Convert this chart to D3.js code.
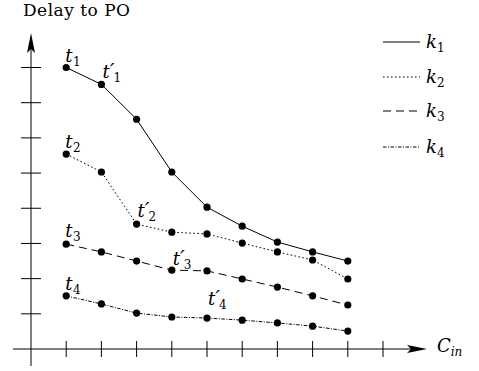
<!DOCTYPE html>
<html lang="en">
<head>
<meta charset="utf-8">
<script src="https://d3js.org/d3.v7.min.js"></script>
<style>
  body { margin: 0; background: #fff; }
</style>
</head>
<body>
<script>
    // values (one unit = one tick step)
    var xs = [1, 2, 3, 4, 5, 6, 7, 8, 9];
    var k1 = [8.0, 7.52, 6.53, 5.03, 4.03, 3.49, 3.04, 2.76, 2.50];
    var k2 = [5.54, 5.03, 3.55, 3.32, 3.27, 3.01, 2.76, 2.53, 1.99];
    var k3 = [2.98, 2.76, 2.50, 2.24, 2.22, 1.99, 1.76, 1.51, 1.25];
    var k4 = [1.51, 1.28, 1.02, 0.91, 0.88, 0.82, 0.74, 0.65, 0.51];
    var seriesNames = ["1", "2", "3", "4"];
    var xTicks = [1, 2, 3, 4, 5, 6, 7, 8, 9, 10];
    var yTicks = [1, 2, 3, 4, 5, 6, 7, 8];

    var width = 479, height = 371;
    var series = [k1, k2, k3, k4];
    var dashes = [null, "1.6,2.4", "8,5", "3.5,1.5,1,1.5"];
    var serif = "'DejaVu Serif', 'Liberation Serif', serif";

    var x = d3.scaleLinear().domain([0, 10]).range([31, 383]);
    var y = d3.scaleLinear().domain([0, 8]).range([349, 67.5]);

    var svg = d3.select("body").append("svg")
        .attr("width", width)
        .attr("height", height)
        .attr("font-family", serif);

    // axes
    svg.append("line").attr("x1", 13).attr("x2", 420).attr("y1", y(0)).attr("y2", y(0))
        .attr("stroke", "#000").attr("stroke-width", 1);
    svg.append("line").attr("x1", x(0)).attr("x2", x(0)).attr("y1", 366).attr("y2", 40)
        .attr("stroke", "#000").attr("stroke-width", 1);
    // arrow heads
    svg.append("path")
        .attr("d", "M427," + y(0) + " L407," + (y(0) - 4) + " L411," + y(0) + " L407," + (y(0) + 4) + "Z")
        .attr("fill", "#000");
    svg.append("path")
        .attr("d", "M" + x(0) + ",33 L" + (x(0) - 4) + ",53 L" + x(0) + ",49 L" + (x(0) + 4) + ",53Z")
        .attr("fill", "#000");

    svg.selectAll(".xt").data(xTicks).enter().append("line")
        .attr("x1", function (d) { return x(d); })
        .attr("x2", function (d) { return x(d); })
        .attr("y1", y(0) - 8).attr("y2", y(0) + 8)
        .attr("stroke", "#000");
    svg.selectAll(".yt").data(yTicks).enter().append("line")
        .attr("x1", x(0) - 10).attr("x2", x(0) + 10)
        .attr("y1", function (d) { return y(d); })
        .attr("y2", function (d) { return y(d); })
        .attr("stroke", "#000");

    // axis titles
    svg.append("text").attr("x", 23).attr("y", 16).attr("font-size", 17)
        .attr("textLength", 107).attr("lengthAdjust", "spacing").text("Delay to PO");
    var ct = svg.append("text").attr("x", 437).attr("y", 352).attr("font-size", 18).attr("font-style", "italic");
    ct.append("tspan").text("C");
    ct.append("tspan").attr("dy", 4).attr("font-size", 12).text("in");

    // series lines and dots
    var line = d3.line()
        .x(function (d, i) { return x(xs[i]); })
        .y(function (d) { return y(d); });

    series.forEach(function (s, si) {
        svg.append("path").datum(s)
            .attr("d", line)
            .attr("fill", "none")
            .attr("stroke", "#000")
            .attr("stroke-width", 1)
            .attr("stroke-dasharray", dashes[si]);
        svg.selectAll(".dot" + si).data(s).enter().append("circle")
            .attr("cx", function (d, i) { return x(xs[i]); })
            .attr("cy", function (d) { return y(d); })
            .attr("r", 3.6)
            .attr("fill", "#000");
    });

    // point labels t_i (first point) and t'_i
    var primeIdx = [1, 2, 3, 4];
    var primeDy = [-6, -7, -5, -13];
    var firstDy = [-6, -6, -7, -6];

    function tLabel(px, py, sub, prime) {
        var t = svg.append("text").attr("x", px).attr("y", py)
            .attr("font-size", 18).attr("font-style", "italic");
        t.append("tspan").text("t");
        if (prime) t.append("tspan").attr("font-size", 21).attr("dx", 0).text("\u2032");
        t.append("tspan").attr("font-style", "normal").attr("font-size", 12)
            .attr("dy", 4).attr("dx", prime ? -1 : 0.5).text(sub);
    }
    series.forEach(function (s, si) {
        tLabel(x(xs[0]) - 1, y(s[0]) + firstDy[si], seriesNames[si], false);
        var pi = primeIdx[si];
        tLabel(x(xs[pi]) + 1, y(s[pi]) + primeDy[si], seriesNames[si], true);
    });

    // legend
    var legY = [42, 77, 111, 147];
    series.forEach(function (s, si) {
        svg.append("line")
            .attr("x1", 383).attr("x2", 420)
            .attr("y1", legY[si]).attr("y2", legY[si])
            .attr("stroke", "#000")
            .attr("stroke-dasharray", dashes[si]);
        var t = svg.append("text").attr("x", 426).attr("y", legY[si] + 6)
            .attr("font-size", 18).attr("font-style", "italic");
        t.append("tspan").text("k");
        t.append("tspan").attr("font-style", "normal").attr("font-size", 12).attr("dy", 4).text(seriesNames[si]);
    });
</script>
</body>
</html>
